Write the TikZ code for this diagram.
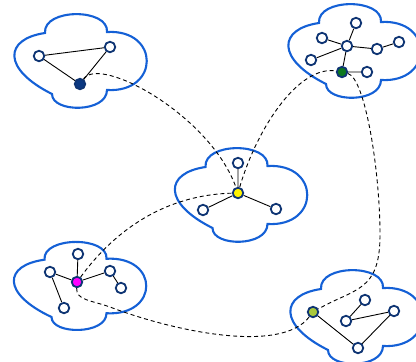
\documentclass[tikz,border=0pt]{standalone}
\begin{document}
\begin{tikzpicture}[x=1pt,y=-1pt]
\definecolor{cloudblue}{RGB}{20,96,214}
\definecolor{navy}{RGB}{14,52,115}
\definecolor{darkfill}{RGB}{10,56,130}
\definecolor{greenfill}{RGB}{12,120,30}
\definecolor{limefill}{RGB}{168,200,60}
\definecolor{magfill}{RGB}{255,0,255}
\tikzset{
  cloudline/.style={draw=cloudblue, line width=2.1pt, fill=white},
  cloudpic/.pic={\path[cloudline] (-35,-28) .. controls (-37,-53) and (29,-53) .. (27,-29)
     .. controls (80,-32) and (80,32) .. (27,29)
     .. controls (27,52) and (-28,52) .. (-28,33)
     .. controls (-78,8) and (-76,-22) .. cycle;},
  nd/.style={circle, draw=navy, fill=white, line width=1.8pt, minimum size=10.5pt, inner sep=0pt},
  solidline/.style={draw=black, line width=0.9pt},
  dashline/.style={draw=black, line width=0.9pt, dash pattern=on 4pt off 3pt}
}
\useasboundingbox (0,0) rectangle (416,362);
\clip (0,0) rectangle (416,362);
% clouds
\pic at (80,61) {cloudpic};
\pic at (354,51) {cloudpic};
\pic at (240.5,195) {cloudpic};
\pic[yscale=0.94] at (79.5,286) {cloudpic};
\pic at (356,317) {cloudpic};
% nodes cloud 1
\node[nd] (a1) at (39,56) {};
\node[nd] (a2) at (110,47) {};
\node[nd, fill=darkfill] (dk) at (80,84) {};
% cloud 2
\node[nd] (b1) at (356,23) {};
\node[nd] (b2) at (322,38) {};
\node[nd] (bc) at (347,46) {};
\node[nd] (b3) at (377,49) {};
\node[nd] (b4) at (399,42) {};
\node[nd] (b5) at (311,60) {};
\node[nd, fill=greenfill] (g) at (342,72) {};
\node[nd] (b6) at (367,72) {};
% cloud 3
\node[nd] (c1) at (238,163) {};
\node[nd, fill=yellow] (y) at (238,193) {};
\node[nd] (c2) at (203,210) {};
\node[nd] (c3) at (276,209) {};
% cloud 4
\node[nd] (d1) at (78,254) {};
\node[nd, fill=magfill] (m) at (77,282) {};
\node[nd] (d2) at (50,272) {};
\node[nd] (d3) at (110,271) {};
\node[nd] (d4) at (121,288) {};
\node[nd] (d5) at (64,308) {};
% cloud 5
\node[nd, fill=limefill] (lg) at (313,312) {};
\node[nd] (e1) at (365,300) {};
\node[nd] (e2) at (346,321) {};
\node[nd] (e3) at (394,311) {};
\node[nd] (e4) at (358,348) {};
% dashed connectors
\path[dashline] (dk) .. controls (100,55) and (210,115) .. (y);
\path[dashline] (y) .. controls (258,125) and (300,65) .. (g);
\path[dashline] (g) .. controls (365,78) and (380,170) .. (380,235)
   .. controls (380,292) and (355,288) .. (lg);
\path[dashline] (m) .. controls (76,300) and (90,300) .. (110,307)
   .. controls (170,330) and (280,355) .. (lg);
\path[dashline] (m) .. controls (115,230) and (165,195) .. (y);
% solid edges
\path[solidline] (a1) -- (a2) (a1) -- (dk) (a2) -- (dk);
\path[solidline] (bc) -- (b1) (bc) -- (b2) (bc) -- (b5) (bc) -- (b3) (b3) -- (b4) (bc) -- (g) (g) -- (b6);
\path[solidline] (y) -- (c1) (y) -- (c2) (y) -- (c3);
\path[solidline] (m) -- (d1) (m) -- (d2) (d2) -- (d5) (m) -- (d3) (d3) -- (d4);
\path[solidline] (lg) -- (e4) (e4) -- (e3) (e3) -- (e2) (e2) -- (e1);
\end{tikzpicture}
\end{document}
